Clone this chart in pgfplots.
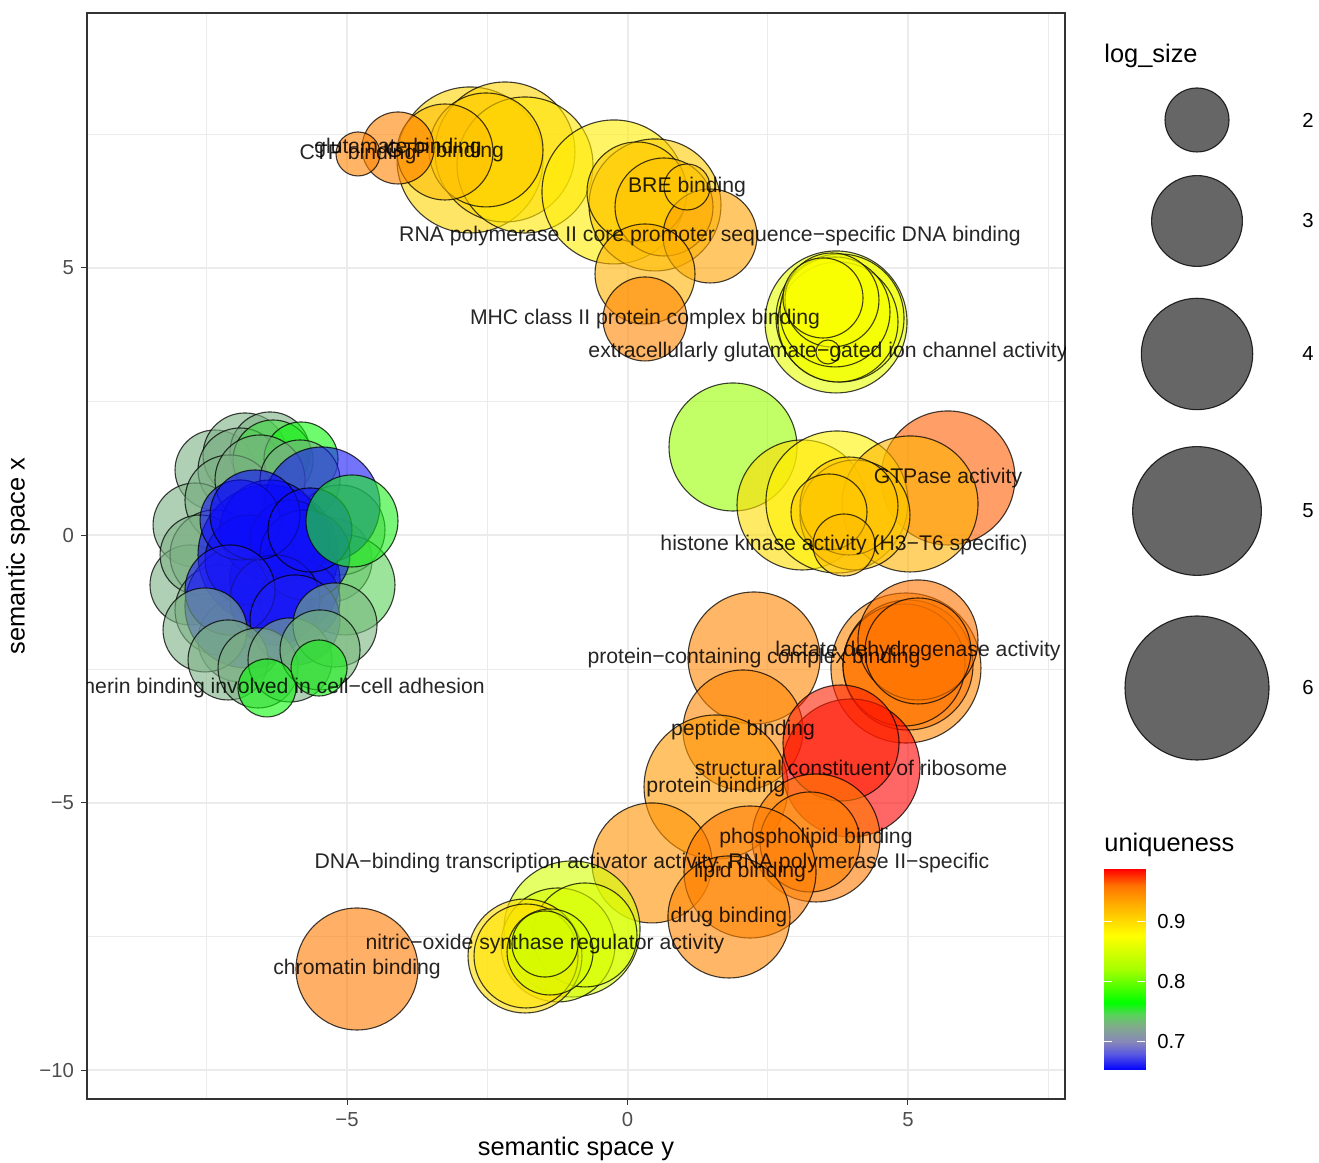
\documentclass[border=0pt]{standalone}
\usepackage{fontspec}
\setmainfont{Liberation Sans}
\usepackage{pgfplots}
\pgfplotsset{compat=1.18}
\usepackage{pgfplotstable}
\definecolor{gray20}{RGB}{51,51,51}
\definecolor{gray30}{RGB}{77,77,77}
\definecolor{gray92}{RGB}{235,235,235}
\pgfplotsset{colormap={revigo}{rgb255(653pt)=(0,0,255) rgb255(680pt)=(90,90,225) rgb255(700pt)=(135,135,185) rgb255(725pt)=(130,170,140) rgb255(745pt)=(90,210,90) rgb255(765pt)=(0,255,0) rgb255(820pt)=(165,255,0) rgb255(877pt)=(255,255,0) rgb255(905pt)=(255,212,0) rgb255(932pt)=(255,168,0) rgb255(960pt)=(255,115,0) rgb255(988pt)=(255,0,0)}}
\tikzset{lbl/.style={font=\fontsize{10.6}{12}\selectfont, text=black, text opacity=0.85, inner sep=0pt, anchor=center}}

% x y log_size uniqueness
\pgfplotstableread{
x y s u
-2.807 7.019 6.139 0.905
-2.184 7.168 5.727 0.905
-1.827 6.925 5.462 0.893
-2.522 7.206 4.139 0.910
-3.253 7.168 3.231 0.918
-4.091 7.243 2.262 0.952
-4.804 7.131 1.481 0.952
-0.241 6.421 6.000 0.890
0.490 6.178 5.204 0.910
0.169 6.421 3.419 0.910
0.651 6.140 3.324 0.915
1.471 5.598 3.139 0.935
1.061 6.514 1.524 0.915
0.312 4.888 3.419 0.925
0.312 4.047 2.712 0.950
3.717 3.991 5.863 0.862
3.788 4.065 4.954 0.870
3.752 3.991 4.477 0.870
3.699 4.178 3.924 0.872
3.645 4.402 3.139 0.872
3.485 4.439 2.554 0.875
3.574 3.430 1.154 0.875
1.881 1.654 4.954 0.816
5.713 1.075 5.332 0.965
3.111 0.570 5.078 0.900
3.734 0.626 5.863 0.885
5.036 0.589 5.462 0.925
4.055 0.383 3.924 0.915
3.948 0.551 3.324 0.915
3.592 0.439 2.404 0.912
3.859 -0.178 1.939 0.920
2.255 -2.290 5.204 0.950
4.964 -2.477 6.424 0.950
5.000 -2.421 5.078 0.958
4.929 -2.421 4.593 0.958
5.178 -1.953 4.477 0.960
5.178 -2.159 3.716 0.958
2.059 -3.636 4.477 0.950
1.578 -4.701 6.000 0.940
3.984 -4.346 5.593 0.988
3.806 -3.879 4.250 0.980
3.360 -5.654 4.954 0.955
3.253 -5.729 3.419 0.955
0.437 -6.121 4.477 0.943
2.184 -6.290 5.204 0.955
1.809 -7.131 4.593 0.950
-0.989 -7.355 5.462 0.850
-1.239 -7.654 4.139 0.852
-0.758 -7.467 3.615 0.855
-1.827 -7.860 4.139 0.900
-1.809 -7.860 3.615 0.895
-1.381 -7.785 2.793 0.850
-1.471 -7.636 2.063 0.848
-4.822 -8.103 4.593 0.955
}\bubbles

\pgfplotstableread{
x y s u
-7.353 1.224 2.554 0.728
-6.818 1.505 2.712 0.728
-6.373 1.561 2.554 0.728
-6.907 1.224 2.712 0.728
-6.319 1.411 2.554 0.750
-5.820 1.430 2.332 0.762
-7.709 0.196 2.712 0.728
-7.799 -0.925 2.554 0.728
-7.086 0.664 2.963 0.728
-6.551 1.037 2.963 0.728
-5.838 1.037 2.554 0.728
-7.353 -0.364 2.963 0.728
-7.620 -0.364 2.554 0.728
-7.264 -1.393 2.963 0.728
-5.303 -0.458 2.712 0.728
-6.907 -1.953 2.712 0.728
-5.125 0.103 2.963 0.732
-5.036 -0.925 3.419 0.745
-6.408 -0.364 5.727 0.655
-5.446 0.570 4.250 0.660
-6.783 -1.318 4.712 0.665
-6.105 -0.832 3.924 0.655
-6.373 0.103 3.419 0.655
-6.729 -0.458 2.963 0.655
-5.838 -1.206 2.554 0.660
-6.016 -0.084 2.554 0.655
-6.907 0.290 2.554 0.660
-5.749 -0.364 2.963 0.660
-6.283 -1.206 2.963 0.658
-6.640 0.383 2.963 0.656
-5.660 0.103 2.712 0.658
-7.086 -1.019 2.963 0.662
-5.927 -1.579 2.963 0.662
-4.911 0.271 3.050 0.758
-7.531 -1.766 2.712 0.728
-7.121 -2.327 2.554 0.728
-6.586 -2.477 2.554 0.728
-6.016 -2.327 2.712 0.728
-5.214 -1.673 2.712 0.730
-5.481 -2.140 2.554 0.732
-6.426 -2.850 1.824 0.762
-5.499 -2.477 1.769 0.760
}\cluster

\pgfplotstableread{
x y s
1197 1043 2
1197 942 3
1197 809 4
1197 652 5
1197 475 6
}\sizekey

\pgfplotsset{bubble/.style={scatter, only marks, mark=*,
  point meta=\thisrow{u},
  scatter/use mapped color={draw=black, draw opacity=0.75, fill=mapped color, fill opacity=0.6, line width=0.55pt},
  visualization depends on={sqrt(260*\thisrow{s}-264) \as \rad},
  scatter/@pre marker code/.append style={/tikz/mark size=\rad}},
  panel/.style={at={(43.5pt,32pt)}, anchor=south west,
  scale only axis, width=489pt, height=543pt,
  xmin=-9.635, xmax=7.799, ymin=-10.533, ymax=9.766}}

\begin{document}
\begin{tikzpicture}
\useasboundingbox (0,0) rectangle (659.5pt,581.5pt);
\begin{axis}[panel,
  xtick={-5,0,5}, xticklabels={−5,0,5},
  ytick={-10,-5,0,5}, yticklabels={−10,−5,0,5},
  minor xtick={-7.5,-2.5,2.5,7.5}, minor ytick={-7.5,-2.5,2.5,7.5},
  grid=both,
  major grid style={draw=gray92, line width=1pt},
  minor grid style={draw=gray92, line width=0.5pt},
  axis line style={draw=gray20, line width=0.6pt},
  tick align=outside, tick pos=left,
  major tick length=3pt, minor tick length=0pt,
  tick style={draw=gray20, line width=0.5pt},
  ticklabel style={font=\fontsize{10.15}{12}\selectfont, text=gray30},
  /pgf/number format/assume math mode=true,
  xlabel={semantic space y}, ylabel={semantic space x},
  label style={font=\fontsize{12.7}{15}\selectfont},
  xlabel style={at={(axis description cs:0.5,0)}, anchor=center, yshift=-25pt},
  ylabel style={at={(axis description cs:0,0.5)}, anchor=center, yshift=34.5pt},
  colormap name=revigo, point meta min=0.653, point meta max=0.988,
]
\addplot[bubble] table {\bubbles};
\addplot[bubble] table {\cluster};
\end{axis}

% labels, drawn over the bubbles
\begin{axis}[panel, hide axis]
\pgfplotsextra{%
  \begin{scope}
  \clip (rel axis cs:0,0) rectangle (rel axis cs:1,1);
  \node[lbl] at (axis cs:-4.804,7.131) {CTP binding};
  \node[lbl] at (axis cs:-4.091,7.243) {glutamate binding};
  \node[lbl] at (axis cs:-3.253,7.168) {GTP binding};
  \node[lbl] at (axis cs:1.061,6.514) {BRE binding};
  \node[lbl] at (axis cs:1.471,5.598) {RNA polymerase II core promoter sequence−specific DNA binding};
  \node[lbl] at (axis cs:0.312,4.047) {MHC class II protein complex binding};
  \node[lbl] at (axis cs:3.574,3.430) {extracellularly glutamate−gated ion channel activity};
  \node[lbl] at (axis cs:5.713,1.075) {GTPase activity};
  \node[lbl] at (axis cs:3.859,-0.178) {histone kinase activity (H3−T6 specific)};
  \node[lbl] at (axis cs:2.255,-2.290) {protein−containing complex binding};
  \node[lbl] at (axis cs:5.178,-2.159) {lactate dehydrogenase activity};
  \node[lbl] at (axis cs:2.059,-3.636) {peptide binding};
  \node[lbl] at (axis cs:3.984,-4.346) {structural constituent of ribosome};
  \node[lbl] at (axis cs:1.578,-4.701) {protein binding};
  \node[lbl] at (axis cs:3.360,-5.654) {phospholipid binding};
  \node[lbl] at (axis cs:0.437,-6.121) {DNA−binding transcription activator activity, RNA polymerase II−specific};
  \node[lbl] at (axis cs:2.184,-6.290) {lipid binding};
  \node[lbl] at (axis cs:1.809,-7.131) {drug binding};
  \node[lbl] at (axis cs:-1.471,-7.636) {nitric−oxide synthase regulator activity};
  \node[lbl] at (axis cs:-4.822,-8.103) {chromatin binding};
  \node[lbl] at (axis cs:-6.426,-2.850) {cadherin binding involved in cell−cell adhesion};
  \end{scope}}
\end{axis}

% size key
\begin{axis}[at={(0pt,0pt)}, anchor=south west, scale only axis,
  width=659.5pt, height=581.5pt, xmin=0, xmax=1319, ymin=0, ymax=1163,
  hide axis, clip=false]
\addplot[scatter, only marks, mark=*, point meta=\thisrow{s},
  scatter/use mapped color={draw=black, draw opacity=0.8, fill=black, fill opacity=0.6, line width=0.55pt},
  visualization depends on={sqrt(260*\thisrow{s}-264) \as \rad},
  scatter/@pre marker code/.append style={/tikz/mark size=\rad}]
  table {\sizekey};
\end{axis}

% colour bar
\begin{axis}[at={(552pt,46.5pt)}, anchor=south west, scale only axis,
  width=20.5pt, height=100.5pt,
  xmin=0, xmax=1, ymin=0.653, ymax=0.988,
  xtick=\empty, ytick={0.7,0.8,0.9}, yticklabels={0.7,0.8,0.9},
  ytick pos=both, yticklabel pos=right, tick align=inside, major tick length=4pt,
  ytick style={draw=white, line width=0.5pt},
  axis line style={draw=none},
  yticklabel style={font=\fontsize{10.15}{12}\selectfont, text=black, xshift=2.6pt},
  colormap name=revigo, point meta min=0.653, point meta max=0.988,
  axis on top]
\addplot[patch, shader=interp, point meta=y] coordinates {
(0,0.653) (1,0.653) (1,0.988)
(0,0.653) (1,0.988) (0,0.988)};
\end{axis}

\node[anchor=west, inner sep=0pt, font=\fontsize{12.7}{15}\selectfont] at (552pt,553.5pt) {log\_size};
\node[anchor=west, inner sep=0pt, font=\fontsize{12.7}{15}\selectfont] at (552pt,159pt) {uniqueness};
\node[font=\fontsize{10.15}{12}\selectfont] at (654pt,521.5pt) {2};
\node[font=\fontsize{10.15}{12}\selectfont] at (654pt,471pt) {3};
\node[font=\fontsize{10.15}{12}\selectfont] at (654pt,404.5pt) {4};
\node[font=\fontsize{10.15}{12}\selectfont] at (654pt,326pt) {5};
\node[font=\fontsize{10.15}{12}\selectfont] at (654pt,237.5pt) {6};
\end{tikzpicture}
\end{document}
